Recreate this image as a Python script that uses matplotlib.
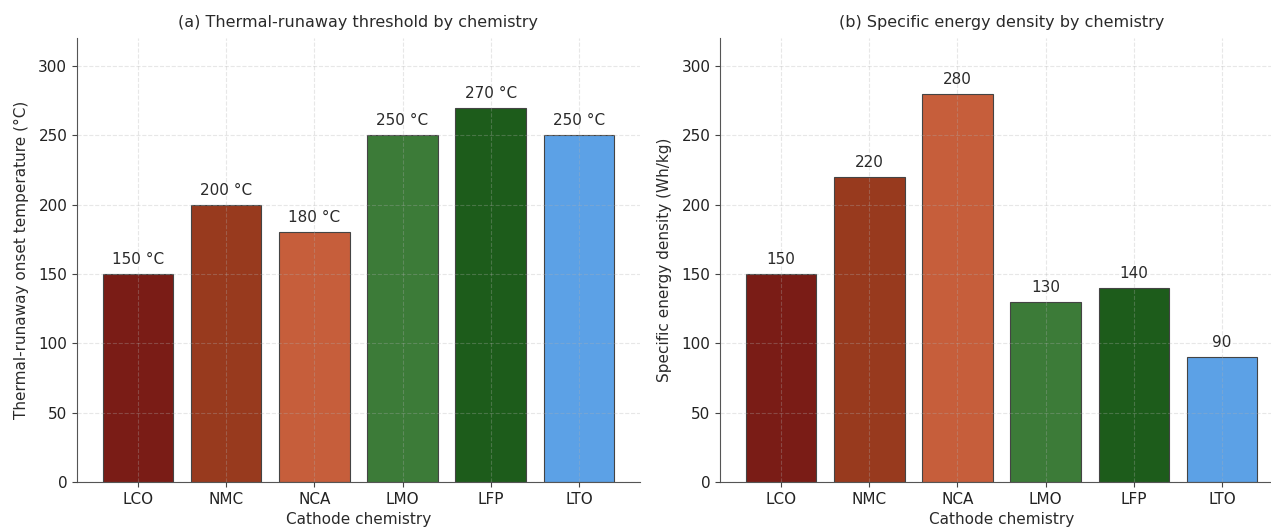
import matplotlib

matplotlib.use("Agg")
import matplotlib.pyplot as plt

chemistries = ["LCO", "NMC", "NCA", "LMO", "LFP", "LTO"]
runaway_temp_c = [150, 200, 180, 250, 270, 250]
energy_wh_kg = [150, 220, 280, 130, 140, 90]
bar_colors = ["#7a1c16", "#983a1e", "#c65e3b", "#3c7b38", "#1d5c1b", "#5ca1e6"]

plt.rcParams["text.color"] = "#2a2a2a"
plt.rcParams["axes.labelcolor"] = "#2a2a2a"
plt.rcParams["xtick.color"] = "#444444"
plt.rcParams["ytick.color"] = "#444444"
plt.rcParams["axes.edgecolor"] = "#555555"


def draw_panel(ax, values, labels, title, ylabel):
    bars = ax.bar(chemistries, values, color=bar_colors, edgecolor="#444444",
                  linewidth=0.8, width=0.8, zorder=2)
    for bar, lab in zip(bars, labels):
        ax.annotate(lab, (bar.get_x() + bar.get_width() / 2, bar.get_height()),
                    xytext=(0, 5), textcoords="offset points",
                    ha="center", va="bottom", fontsize=11)
    ax.set_ylim(0, 320)
    ax.set_yticks(range(0, 301, 50))
    ax.set_title(title, fontsize=11.5, pad=8)
    ax.set_xlabel("Cathode chemistry", fontsize=11)
    ax.set_ylabel(ylabel, fontsize=11, labelpad=7)
    ax.tick_params(labelsize=11, labelcolor="#222222")
    ax.grid(True, linestyle="--", alpha=0.3, zorder=3)
    ax.set_axisbelow(False)
    ax.spines["top"].set_visible(False)
    ax.spines["right"].set_visible(False)


fig, (ax1, ax2) = plt.subplots(1, 2, figsize=(12.71, 5.3), dpi=100)
draw_panel(ax1, runaway_temp_c, [f"{v} °C" for v in runaway_temp_c],
           "(a) Thermal-runaway threshold by chemistry",
           "Thermal-runaway onset temperature (°C)")
draw_panel(ax2, energy_wh_kg, [str(v) for v in energy_wh_kg],
           "(b) Specific energy density by chemistry",
           "Specific energy density (Wh/kg)")
fig.subplots_adjust(left=0.0606, right=1.0094, bottom=0.0906, top=0.9277,
                    wspace=0.1427)
fig.savefig("out.png", dpi=100)
plt.close(fig)
